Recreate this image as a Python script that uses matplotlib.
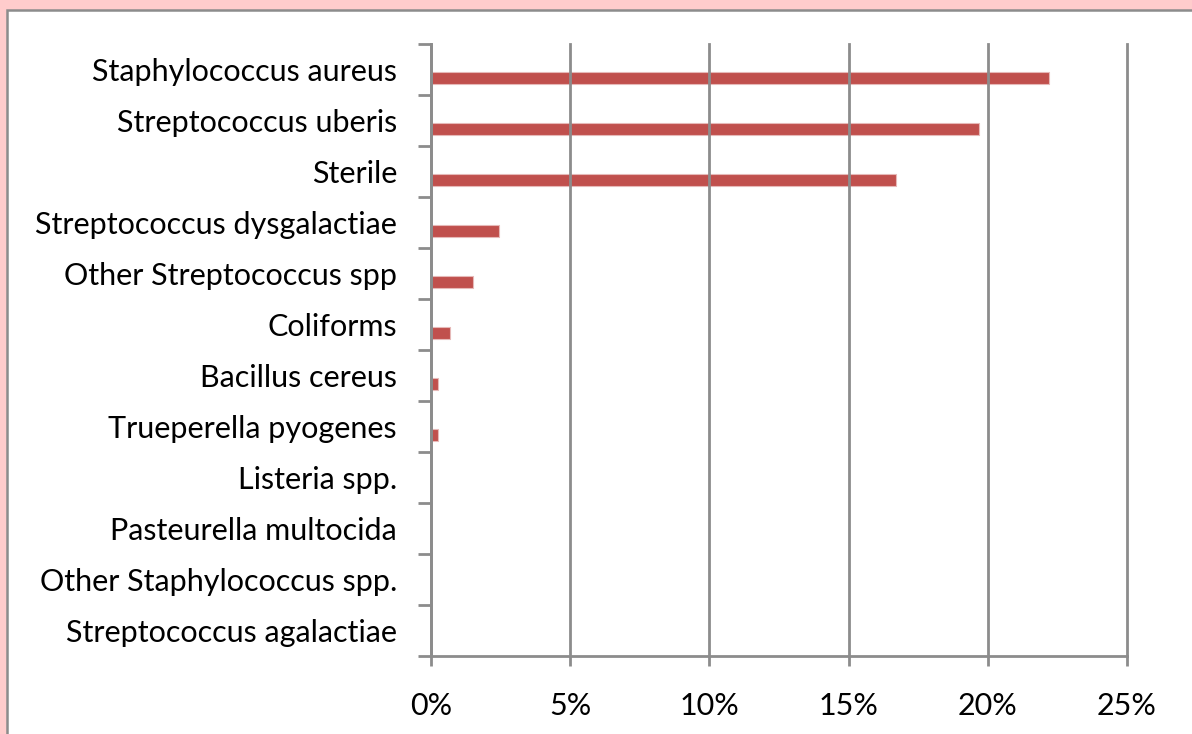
import matplotlib
matplotlib.use("Agg")
import matplotlib.pyplot as plt
from matplotlib.patches import Rectangle
from matplotlib.ticker import FixedLocator, FuncFormatter
import numpy as np

categories = [
    "Staphylococcus aureus",
    "Streptococcus uberis",
    "Sterile",
    "Streptococcus dysgalactiae",
    "Other Streptococcus spp",
    "Coliforms",
    "Bacillus cereus",
    "Trueperella pyogenes",
    "Listeria spp.",
    "Pasteurella multocida",
    "Other Staphylococcus spp.",
    "Streptococcus agalactiae",
]
values = [22.2, 19.7, 16.7, 2.45, 1.5, 0.7, 0.24, 0.24, 0.0, 0.0, 0.0, 0.0]
xticks = [0, 5, 10, 15, 20, 25]

W, H = 1192, 734
fig = plt.figure(figsize=(W / 100, H / 100), dpi=100)
fig.patch.set_facecolor("#FFCCCC")

# white inner panel with gray border
fig.add_artist(Rectangle((7 / W, 0 - 0.01), 1.02, (H - 10) / H + 0.01,
                         transform=fig.transFigure, facecolor="white",
                         edgecolor="#8C8C8C", linewidth=1.8, zorder=0))

ax = fig.add_axes([431 / W, 1 - 656 / H, (1127 - 431) / W, (656 - 44) / H])
ax.set_facecolor("none")

n = len(categories)
pos = np.arange(n)
ax.barh(pos + 0.165, values, height=0.245, color="#C0504D",
        edgecolor="#E6B9B8", linewidth=0.8, zorder=2)

ax.set_xlim(0, 25)
ax.set_ylim(n - 0.5, -0.5)

gray = "#8C8C8C"
ax.xaxis.set_major_locator(FixedLocator(xticks))
ax.xaxis.set_major_formatter(FuncFormatter(lambda v, p: f"{int(v)}%"))
ax.grid(axis="x", color=gray, linewidth=2.0, zorder=3)
ax.set_axisbelow(False)
for gl in ax.get_xgridlines():
    gl.set_clip_on(False)

ax.set_yticks(pos)
ax.set_yticklabels(categories)
ax.set_yticks(np.arange(n + 1) - 0.5, minor=True)

fam = ["Lato", "DejaVu Sans"]
ax.tick_params(axis="y", which="major", length=0, pad=24.5, labelsize=22)
ax.tick_params(axis="y", which="minor", length=9.4, width=2, color=gray)
ax.tick_params(axis="x", which="major", length=7.2, width=2, color=gray,
               labelsize=22, pad=18.5)
for lab in ax.get_yticklabels() + ax.get_xticklabels():
    lab.set_family(fam)
    lab.set_color("black")

for s in ["top", "right"]:
    ax.spines[s].set_visible(False)
ax.spines["left"].set_color(gray)
ax.spines["left"].set_linewidth(2)
ax.spines["bottom"].set_color(gray)
ax.spines["bottom"].set_linewidth(2)

fig.savefig("out.png", dpi=100, facecolor=fig.get_facecolor())
